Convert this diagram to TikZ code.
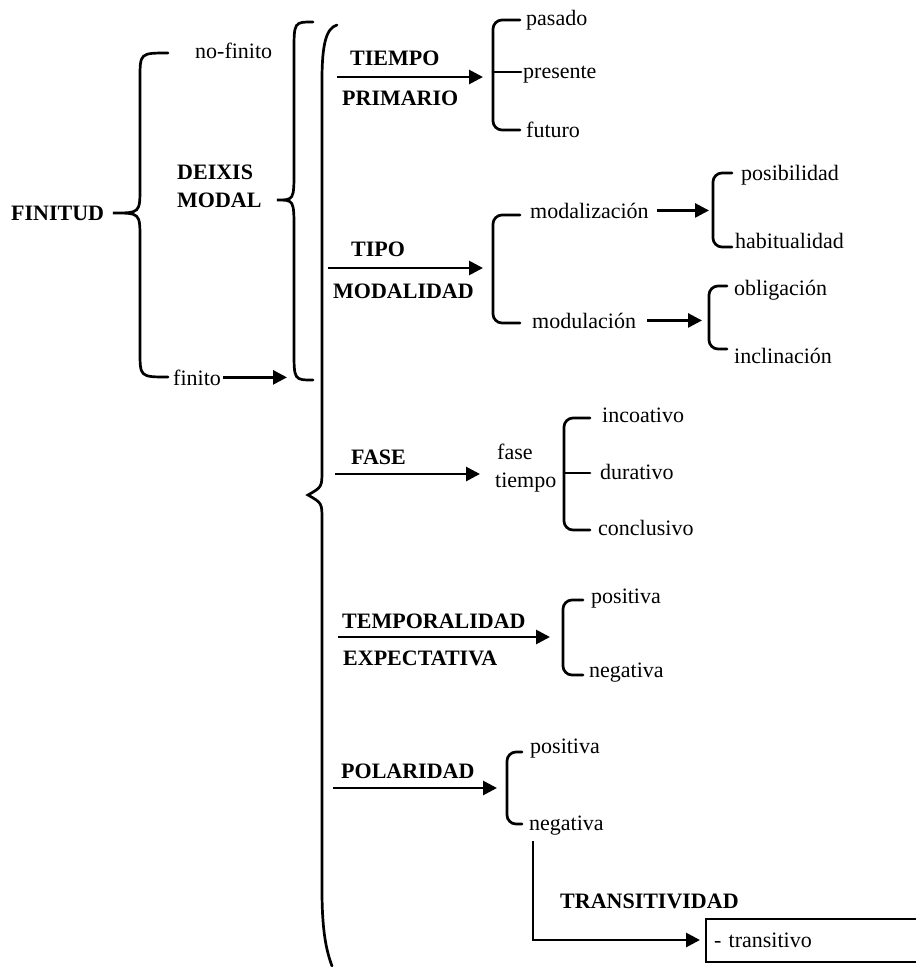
\documentclass[tikz,border=0pt]{standalone}
\usepackage{fontspec}
\setmainfont{Liberation Serif}
\usetikzlibrary{arrows.meta}

% curly brace: end x, body x, tip x, top y, tip y, bottom y, radius
\newcommand{\curlybrace}[7]{%
    \draw[brc] (#1,#4) .. controls (#2,#4) .. (#2,#4+#7)
        -- (#2,#5-#7) .. controls (#2,#5) .. (#3,#5)
        .. controls (#2,#5) .. (#2,#5+#7)
        -- (#2,#6-#7) .. controls (#2,#6) .. (#1,#6);}
% square bracket: end x, body x, top y, bottom y
\newcommand{\sqbracket}[4]{%
    \draw[brc, rounded corners=9pt] (#1,#3) -- (#2,#3) -- (#2,#4) -- (#1,#4);}

\begin{document}
\begin{tikzpicture}[x=1pt, y=-1pt,
    txt/.style={anchor=base west, inner sep=0pt, font=\fontsize{22pt}{24pt}\selectfont},
    lbl/.style={txt, font=\fontsize{22pt}{24pt}\selectfont\bfseries},
    brc/.style={line width=2.7pt, line cap=round},
    arr/.style={line width=2.8pt, -{Triangle[length=14pt, width=14pt]}}]
    \useasboundingbox (0,0) rectangle (916,967);

    % finitud
    \node[lbl] (finitud) at (11,220) {FINITUD};
    \curlybrace{168}{140}{113}{53}{213}{377}{26}
    \node[txt] (nofinito) at (195,58) {no-finito};
    \node[txt] (finito) at (173,385) {finito};
    \node[lbl] (deixis) at (177,179) {DEIXIS};
    \node[lbl] (modal) at (177,207) {MODAL};
    \coordinate (deixisin) at (287,377);
    \draw[arr] ([xshift=2pt]finito.east) -- (finito.east -| deixisin);
    \curlybrace{313}{294}{277}{22}{200}{380}{30}
    % big brace
    \draw[brc] (337,25) .. controls (326,28) and (322,45) .. (322,80)
        -- (322,470) .. controls (322,487) .. (308,495)
        .. controls (322,503) .. (322,520)
        -- (322,890) .. controls (322,930) and (326,950) .. (332,966);

    % tiempo primario
    \coordinate (tps) at (337,77);
    \coordinate (tpe) at (483,77);
    \draw[arr] (tps) -- (tpe);
    \node[lbl] (tiempo) at (350,65) {TIEMPO};
    \node[lbl] (primario) at (342,105) {PRIMARIO};
    \sqbracket{520}{493}{20}{130}
    \draw[brc] (493,72) -- (521,72);
    \node[txt] (pasado) at (526,25) {pasado};
    \node[txt] (presente) at (523,78) {presente};
    \node[txt] (futuro) at (526,137) {futuro};

    % tipo modalidad
    \coordinate (tms) at (328,268);
    \coordinate (tme) at (483,268);
    \draw[arr] (tms) -- (tme);
    \node[lbl] (tipo) at (351,256) {TIPO};
    \node[lbl] (modalidad) at (333,298) {MODALIDAD};
    \sqbracket{520}{493}{215}{323}
    \node[txt] (modalizacion) at (530,218) {modalización};
    \node[txt] (modulacion) at (532,328) {modulación};
    \coordinate (mze) at (709,209);
    \coordinate (mle) at (702,321);
    \draw[arr] ([xshift=8pt]modalizacion.east) -- (modalizacion.east -| mze);
    \draw[arr] ([xshift=11pt]modulacion.east) -- (modulacion.east -| mle);
    \sqbracket{732}{713}{173}{247}
    \node[txt] (posibilidad) at (741,180) {posibilidad};
    \node[txt] (habitualidad) at (735,248) {habitualidad};
    \sqbracket{727}{709}{286}{349}
    \node[txt] (obligacion) at (734,295) {obligación};
    \node[txt] (inclinacion) at (734,363) {inclinación};

    % fase
    \coordinate (fss) at (335,474);
    \coordinate (fse) at (480,474);
    \draw[arr] (fss) -- (fse);
    \node[lbl] (fase) at (351,464) {FASE};
    \node[txt] (fasetxt) at (497,459) {fase};
    \node[txt] (tiempotxt) at (495,487) {tiempo};
    \sqbracket{590}{564}{418}{530}
    \draw[brc] (564,473) -- (590,473);
    \node[txt] (incoativo) at (602,422) {incoativo};
    \node[txt] (durativo) at (600,479) {durativo};
    \node[txt] (conclusivo) at (598,535) {conclusivo};

    % temporalidad expectativa
    \coordinate (tes) at (338,637);
    \coordinate (tee) at (550,637);
    \draw[arr] (tes) -- (tee);
    \node[lbl] (temporalidad) at (342,628) {TEMPORALIDAD};
    \node[lbl] (expectativa) at (343,665) {EXPECTATIVA};
    \sqbracket{583}{563}{600}{675}
    \node[txt] (positivaa) at (591,603) {positiva};
    \node[txt] (negativaa) at (589,677) {negativa};

    % polaridad
    \coordinate (pls) at (333,788);
    \coordinate (ple) at (497,788);
    \draw[arr] (pls) -- (ple);
    \node[lbl] (polaridad) at (341,778) {POLARIDAD};
    \sqbracket{522}{507}{752}{824}
    \node[txt] (positivab) at (530,753) {positiva};
    \node[txt] (negativab) at (529,830) {negativa};

    % transitividad
    \node[lbl] (transitividad) at (560,908) {TRANSITIVIDAD};
    \node[txt, draw, line width=2pt, anchor=west, minimum height=43pt,
        text width=214pt, inner xsep=8pt] (transitivo) at (705,940) {- transitivo};
    \draw[arr] ([xshift=4pt, yshift=-6pt]negativab.south west)
        |- ([xshift=-5pt]transitivo.west);
\end{tikzpicture}
\end{document}
